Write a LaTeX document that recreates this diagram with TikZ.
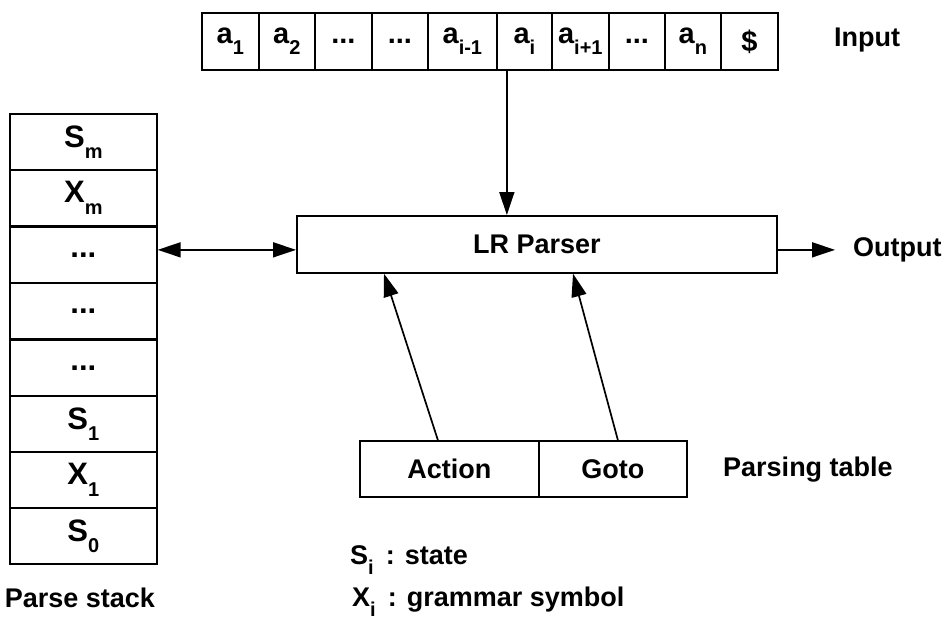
\documentclass[tikz,border=0pt]{standalone}
\usepackage{fontspec}
\setmainfont{Liberation Sans}
\usetikzlibrary{arrows.meta,calc}
\newcommand\sbx[1]{\raisebox{-0.36em}{\fontsize{20}{21}\selectfont #1}}
\tikzset{
  box/.style={draw, line width=1.7pt, inner sep=0pt, anchor=north west},
  celltxt/.style={font=\fontsize{29}{32}\selectfont\bfseries},
  stacktxt/.style={font=\fontsize{31}{34}\selectfont\bfseries},
  lbl/.style={font=\fontsize{27}{30}\selectfont\bfseries, inner sep=0pt},
  arr/.style={line width=1.7pt, -{Triangle[length=23pt,width=15pt]}},
  darr/.style={line width=1.7pt, {Triangle[length=23pt,width=15pt]}-{Triangle[length=23pt,width=15pt]}},
}
\begin{document}
\begin{tikzpicture}[x=1pt,y=-1pt]
\useasboundingbox (0,0) rectangle (947,622);
% input tape
\foreach \n/\xa/\xb/\t in {1/201/258/{a\sbx{1}},2/258/314/{a\sbx{2}},3/314/371/{...},4/371/427/{...},5/427/496/{a\sbx{i-1}},6/496/551/{a\sbx{i}},7/551/608/{a\sbx{i+1}},8/608/664/{...},9/664/720/{a\sbx{n}},10/720/777/{\$}}{
  \node[box, celltxt, minimum width={\xb-\xa}, minimum height=57] (i\n) at (\xa,12) {\t};
}
\node[lbl] (inp) at (867,40) {Input};
% stack
\foreach \n/\ya/\t in {1/113/{S\sbx{m}},2/169/{X\sbx{m}},3/226/{...},4/282/{...},5/339/{...},6/395/{S\sbx{1}},7/451/{X\sbx{1}},8/507/{S\sbx{0}}}{
  \node[box, stacktxt, minimum width=147, minimum height=56] (s\n) at (9,\ya) {\t};
}
\node[lbl] (pst) at (80,598) {Parse stack};
% parser
\node[box, lbl, minimum width=480, minimum height=57] (parser) at (296,215) {LR Parser};
\node[lbl, anchor=west] (out) at (853,250) {Output};
% parsing table
\node[box, lbl, minimum width=179, minimum height=56] (act) at (359,440) {Action};
\node[box, lbl, minimum width=148, minimum height=56] (goto) at (538,440) {Goto};
\node[lbl, anchor=west] (ptab) at (723,470) {Parsing table};
% legend
\node[lbl, anchor=west] (leg1) at (350,560) {S\sbx{i}\, : state};
\node[lbl, anchor=west] (leg2) at (352,602) {X\sbx{i}\, : grammar symbol};
% connectors
\coordinate (outend) at ($([yshift=5pt]s3.east -| out.west)+(-18,0)$);
\draw[arr] ([xshift=-17.5pt]i6.south) -- ([xshift=-17.5pt]i6.south |- parser.north);
\draw[darr] ([yshift=5pt]s3.east) -- ([yshift=5pt]s3.east -| parser.west);
\draw[arr] ([yshift=5pt]s3.east -| parser.east) -- (outend);
\draw[arr] ([xshift=-11.5pt]act.north) -- ([xshift=88pt]parser.south west);
\draw[arr] ([xshift=5pt]goto.north) -- ([xshift=277pt]parser.south west);
\end{tikzpicture}
\end{document}
